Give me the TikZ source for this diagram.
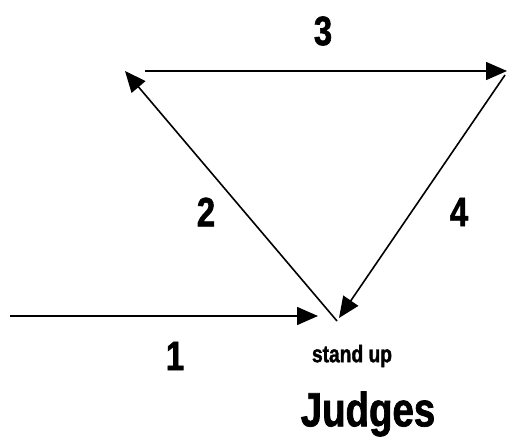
\documentclass[tikz,border=0pt]{standalone}
\usepackage{fontspec}
\setmainfont[FakeStretch=0.8,FakeBold=1.5]{Liberation Sans}
\usetikzlibrary{arrows.meta}
\begin{document}
\begin{tikzpicture}[x=1pt,y=-1pt,
  conn/.style={line width=1.6pt,-{Triangle[length=21pt,width=18pt]}},
  lbl/.style={font=\fontsize{41}{41}\selectfont\bfseries,inner sep=0pt}]
\useasboundingbox (0,0) rectangle (507,441);
\coordinate (s1) at (10,316);
\coordinate (e1) at (318,316);
\coordinate (b) at (337,321);
\coordinate (tl) at (125,71);
\coordinate (s3) at (145,71);
\coordinate (tr) at (507,71);
\coordinate (s4) at (505,75);
\coordinate (e4) at (339,318);
\draw[conn] (s1) -- (e1);
\draw[conn] (b) -- (tl);
\draw[conn] (s3) -- (tr);
\draw[conn] (s4) -- (e4);
\node[lbl] (n3) at (323,31) {3};
\node[lbl] (n2) at (206,212) {2};
\node[lbl] (n4) at (459,212) {4};
\node[lbl] (n1) at (175,356) {1};
\node[inner sep=0pt,font=\fontsize{24}{24}\selectfont\bfseries] (st) at (352,356) {stand up};
\node[inner sep=0pt,font=\fontsize{48}{48}\selectfont\bfseries] (jd) at (368,414) {Judges};
\end{tikzpicture}
\end{document}
